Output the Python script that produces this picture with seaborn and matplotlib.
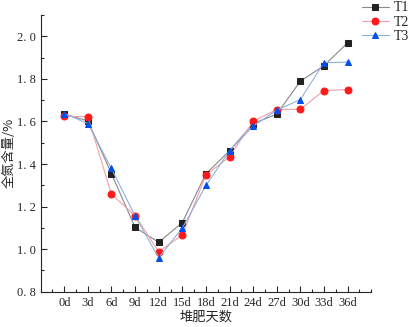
import numpy as np
import pandas as pd
import matplotlib.pyplot as plt
import seaborn as sns
from matplotlib.ticker import MultipleLocator

days = ["0d", "3d", "6d", "9d", "12d", "15d", "18d", "21d", "24d", "27d", "30d", "33d", "36d"]
t1 = [1.634, 1.603, 1.354, 1.102, 1.032, 1.125, 1.354, 1.462, 1.590, 1.634, 1.789, 1.862, 1.969]
t2 = [1.624, 1.623, 1.257, 1.158, 0.988, 1.066, 1.348, 1.434, 1.601, 1.656, 1.657, 1.745, 1.750]
t3 = [1.637, 1.590, 1.379, 1.155, 0.960, 1.099, 1.299, 1.462, 1.578, 1.653, 1.703, 1.876, 1.879]

sns.set_style("ticks")
plt.rcParams['font.family'] = ['Liberation Serif', 'Noto Sans CJK SC']

fig = plt.figure(figsize=(4.11, 3.27), dpi=100)
ax = fig.add_axes([0.099, 0.108, 0.804, 0.846])

x = np.arange(len(days))
styles = [
    ("T1", t1, "s", "#222222", "#888888"),
    ("T2", t2, "o", "#ff1a1a", "#f0a0a8"),
    ("T3", t3, "^", "#0050f0", "#90b0e0"),
]
for name, vals, mk, mc, lc in styles:
    df = pd.DataFrame({"x": x, "y": vals})
    sns.lineplot(data=df, x="x", y="y", ax=ax, color=lc, linewidth=0.8,
                 marker=mk, markersize=5, markerfacecolor=mc, markeredgecolor=mc,
                 label=name)

ax.set_xlim(-1, 13)
ax.set_ylim(0.8, 2.1)
ax.set_xticks(x)
ax.set_xticklabels(days)
ax.xaxis.set_minor_locator(MultipleLocator(0.5))
ax.set_yticks([0.8, 1.0, 1.2, 1.4, 1.6, 1.8, 2.0])
ax.set_yticklabels(["0. 8", "1. 0", "1. 2", "1. 4", "1. 6", "1. 8", "2. 0"])
ax.yaxis.set_minor_locator(MultipleLocator(0.1))
ax.tick_params(which="both", direction="in", labelsize=9, width=0.8)
ax.tick_params(which="major", length=4)
ax.tick_params(which="minor", length=2)
sns.despine(ax=ax)
for s in ["left", "bottom"]:
    ax.spines[s].set_linewidth(0.8)

ax.set_xlabel("堆肥天数", fontsize=9.5, family=['Noto Sans CJK SC'])
ax.set_ylabel("全氮含量/%", fontsize=9.5, family=['Noto Sans CJK SC'])
ax.yaxis.set_label_coords(-0.075, 0.5)
ax.xaxis.set_label_coords(0.5, -0.07)

ax.get_legend().remove()
fig.legend(*ax.get_legend_handles_labels(), loc="upper right",
           bbox_to_anchor=(1.0, 1.0), frameon=False, fontsize=10,
           handlelength=1.9, handletextpad=0.4, labelspacing=0.1,
           borderpad=0.1, borderaxespad=0)

fig.savefig("out.png", dpi=100)
